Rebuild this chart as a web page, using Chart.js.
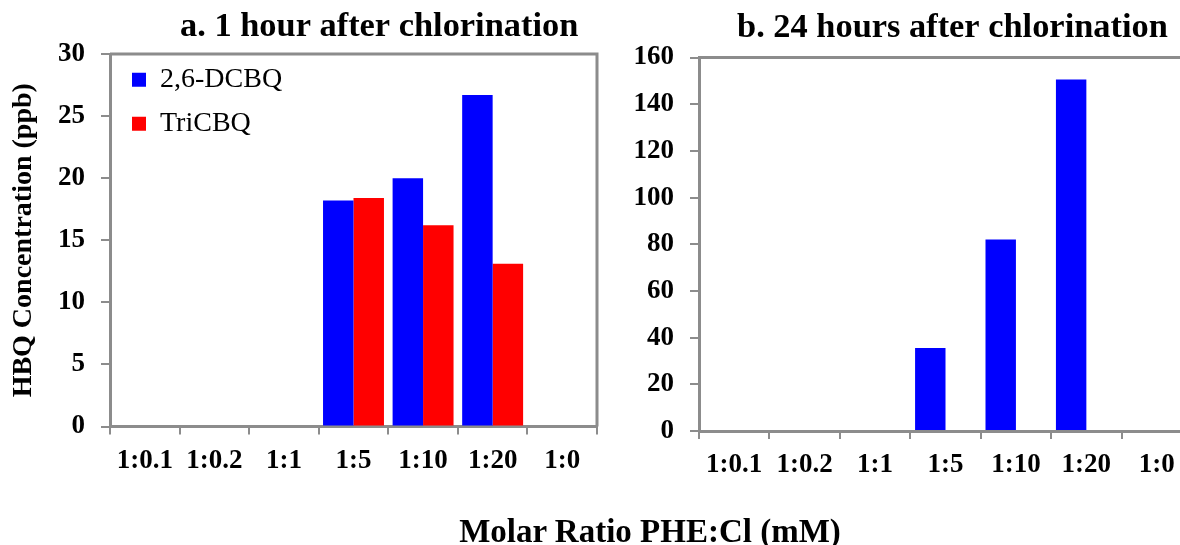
<!DOCTYPE html>
<html>
<head>
<meta charset="utf-8">
<script src="https://cdn.jsdelivr.net/npm/chart.js@4.4.1/dist/chart.umd.min.js"></script>
<style>
  html, body { margin: 0; padding: 0; width: 1180px; height: 545px; overflow: hidden; background: #ffffff; }
  #wa { position: absolute; left: 0; top: 0; width: 600px; height: 545px; }
  #wb { position: absolute; left: 600px; top: 0; width: 600px; height: 545px; }
  #xt { position: absolute; left: 0; top: 515px; width: 1300px; text-align: center;
        font-family: 'Liberation Serif', 'Times New Roman', serif; font-weight: bold;
        font-size: 33px; line-height: 33px; color: #000; white-space: nowrap; }
</style>
</head>
<body>
<div id="wa"><canvas id="ca"></canvas></div>
<div id="wb"><canvas id="cb"></canvas></div>
<div id="xt"></div>
<script>
// ---- data ----
const categories = ['1:0.1', '1:0.2', '1:1', '1:5', '1:10', '1:20', '1:0'];
const dcbq1h   = [0, 0, 0, 18.2, 20.0, 26.7, 0];
const tricbq1h = [0, 0, 0, 18.4, 16.2, 13.1, 0];
const dcbq24h   = [0, 0, 0, 35.6, 82.0, 150.6, 0];
const tricbq24h = [0, 0, 0, 0, 0, 0, 0];
const seriesNames = ['2,6-DCBQ', 'TriCBQ'];
const panelTitles = ['a. 1 hour after chlorination', 'b. 24 hours after chlorination'];
const yAxisTitle = 'HBQ Concentration (ppb)';
const xAxisTitle = 'Molar Ratio PHE:Cl (mM)';
const yTicksA = [0, 5, 10, 15, 20, 25, 30];
const yTicksB = [0, 20, 40, 60, 80, 100, 120, 140, 160];

// ---- style ----
const FONT = "'Liberation Serif', 'Times New Roman', serif";
const BLUE = '#0000ff';
const RED = '#ff0000';
const GRAY = '#8c8c8c';
Chart.defaults.font.family = FONT;
Chart.defaults.color = '#000';

document.getElementById('xt').textContent = xAxisTitle;

const placePlugin = {
  id: 'place',
  afterLayout(chart, args, opts) {
    const t = chart.titleBlock;
    if (t && opts.titleLeft != null) {
      t.left = opts.titleLeft;
      t.right = opts.titleLeft + 700;
    }
    const lg = chart.legend;
    if (lg && opts.legendLeft != null) {
      const w = lg.width, h = lg.height;
      lg.left = opts.legendLeft; lg.right = opts.legendLeft + w;
      lg.top = opts.legendTop; lg.bottom = opts.legendTop + h;
    }
  },
  afterDraw(chart, args, opts) {
    const a = chart.chartArea;
    const ctx = chart.ctx;
    ctx.save();
    ctx.strokeStyle = GRAY;
    ctx.lineWidth = 3;
    ctx.beginPath();
    ctx.moveTo(a.left, a.top);
    ctx.lineTo(a.right, a.top);
    ctx.lineTo(a.right, a.bottom);
    ctx.stroke();
    ctx.restore();
  }
};

function xScale(pad) {
  return {
    z: 1,
    grid: { display: true, drawOnChartArea: false, offset: true, color: GRAY, lineWidth: 2, tickLength: 8 },
    border: { display: true, color: GRAY, width: 3 },
    ticks: { color: '#000', font: { family: FONT, size: 27, weight: 'bold' }, padding: pad, maxRotation: 0, minRotation: 0, autoSkip: false },
    afterFit(s) { s.height = 50; }
  };
}

function yScale(ticks, width, withTitle) {
  const cfg = {
    min: ticks[0],
    max: ticks[ticks.length - 1],
    grid: { display: true, drawOnChartArea: false, color: GRAY, lineWidth: 2, tickLength: 9 },
    border: { display: true, color: GRAY, width: 3 },
    ticks: { stepSize: ticks[1] - ticks[0], color: '#000', font: { family: FONT, size: 27, weight: 'bold' }, padding: 16 },
    afterFit(s) { s.width = width; }
  };
  if (withTitle) {
    cfg.title = { display: true, text: yAxisTitle, color: '#000', font: { family: FONT, size: 28, weight: 'bold' }, padding: { top: 7, bottom: 0 } };
  }
  return cfg;
}

new Chart(document.getElementById('ca'), {
  type: 'bar',
  data: {
    labels: categories,
    datasets: [
      { label: seriesNames[0], data: dcbq1h, backgroundColor: BLUE, borderWidth: 0, categoryPercentage: 0.876, barPercentage: 1 },
      { label: seriesNames[1], data: tricbq1h, backgroundColor: RED, borderWidth: 0, categoryPercentage: 0.876, barPercentage: 1 }
    ]
  },
  options: {
    responsive: true, maintainAspectRatio: false, animation: false,
    layout: { padding: { left: 0, right: 3, top: 0, bottom: 68.5 } },
    plugins: {
      title: { display: true, text: panelTitles[0], align: 'start', color: '#000',
               font: { family: FONT, size: 34.4, weight: 'bold', lineHeight: 1 }, padding: { top: 9.5, bottom: 10.1 } },
      legend: { display: true, position: 'chartArea', align: 'start',
                labels: { boxWidth: 14, boxHeight: 14, padding: 16, color: '#000', font: { family: FONT, size: 28, weight: 'normal' } } },
      tooltip: { enabled: false },
      place: { titleLeft: 180, legendLeft: 116, legendTop: 49.7 }
    },
    scales: { x: xScale(10), y: yScale(yTicksA, 110, true) }
  },
  plugins: [placePlugin]
});

new Chart(document.getElementById('cb'), {
  type: 'bar',
  data: {
    labels: categories,
    datasets: [
      { label: seriesNames[0], data: dcbq24h, backgroundColor: BLUE, borderWidth: 0, categoryPercentage: 0.864, barPercentage: 1 },
      { label: seriesNames[1], data: tricbq24h, backgroundColor: RED, borderWidth: 0, categoryPercentage: 0.864, barPercentage: 1 }
    ]
  },
  options: {
    responsive: true, maintainAspectRatio: false, animation: false,
    layout: { padding: { left: 0, right: 8, top: 0, bottom: 64 } },
    plugins: {
      title: { display: true, text: panelTitles[1], align: 'start', color: '#000',
               font: { family: FONT, size: 34.4, weight: 'bold', lineHeight: 1 }, padding: { top: 11.2, bottom: 11.9 } },
      legend: { display: false },
      tooltip: { enabled: false },
      place: { titleLeft: 137 }
    },
    scales: { x: xScale(10), y: yScale(yTicksB, 99, false) }
  },
  plugins: [placePlugin]
});
</script>
</body>
</html>
